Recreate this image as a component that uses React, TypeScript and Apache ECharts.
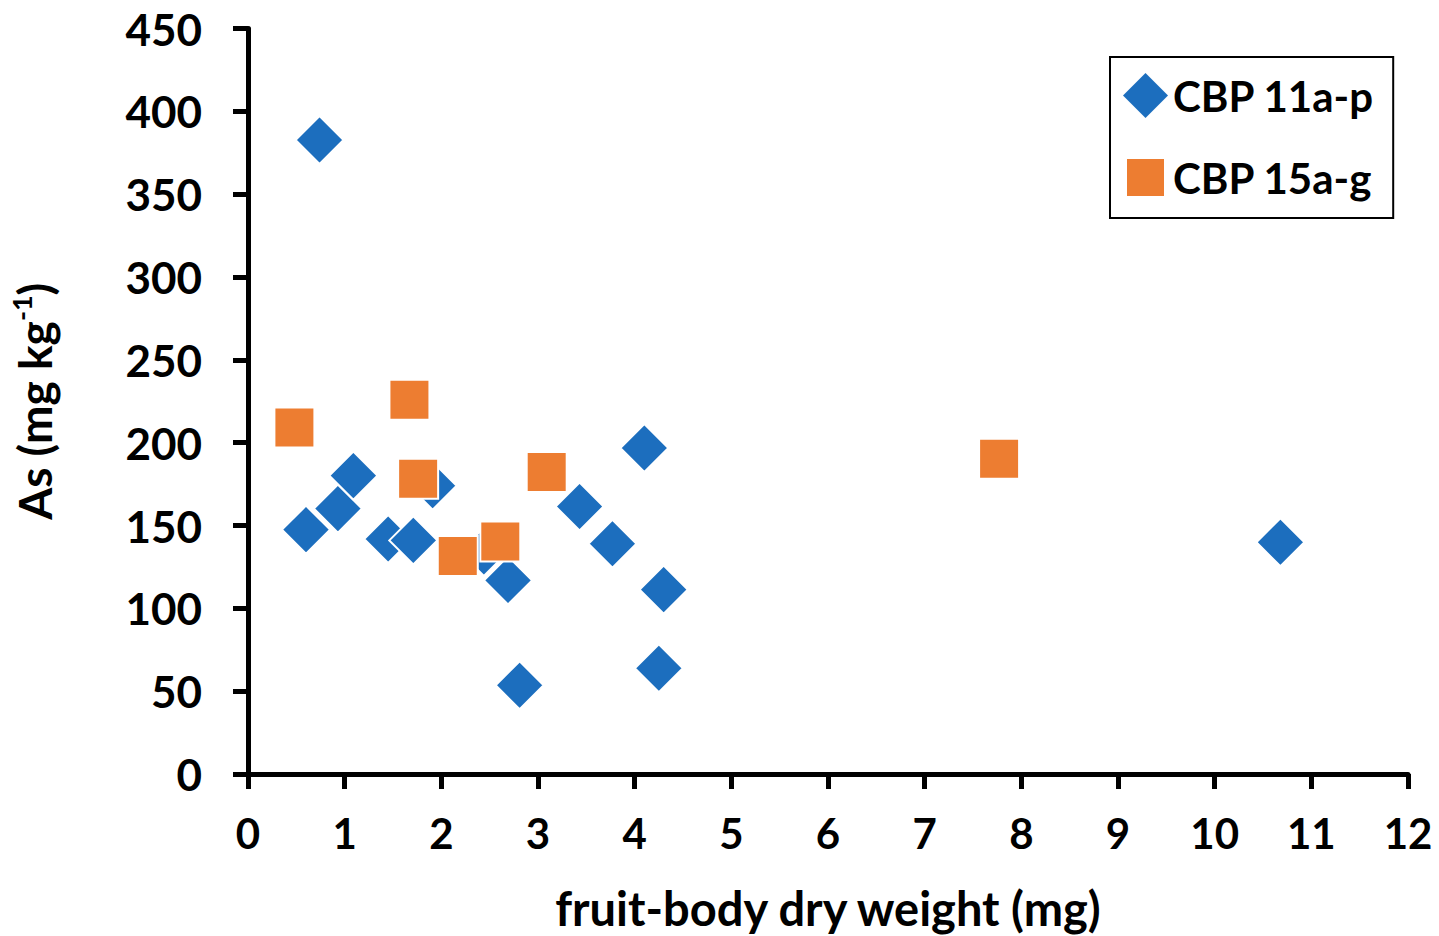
import React, { useEffect, useRef } from "react";
import * as echarts from "echarts";

// CBP 11a-p (blue diamonds)
const seriesAName = "CBP 11a-p";
const seriesAX = [0.60, 0.74, 0.93, 1.09, 1.45, 1.71, 1.91, 2.44, 2.69, 2.81, 3.43, 3.77, 4.10, 4.25, 4.30, 10.68];
const seriesAY = [147.5, 382.7, 160.2, 180.1, 141.9, 141.0, 174.0, 134.1, 116.9, 53.6, 161.5, 139.0, 196.8, 63.8, 111.3, 139.9];

// CBP 15a-g (orange squares)
const seriesBName = "CBP 15a-g";
const seriesBX = [0.48, 1.67, 1.76, 2.17, 2.61, 3.09, 7.77];
const seriesBY = [209.2, 225.9, 178.2, 131.6, 140.4, 182.3, 190.3];

const xTicks = { min: 0, max: 12, interval: 1 };
const yTicks = { min: 0, max: 450, interval: 50 };

const xTitle = "fruit-body dry weight (mg)";

const BLUE = "#1C6EBE";
const ORANGE = "#ED7D31";
const FONT = "Lato";

export default function App() {
  const ref = useRef<HTMLDivElement>(null);

  useEffect(() => {
    if (!ref.current) return;
    const chart = echarts.init(ref.current, null, { renderer: "svg" });
    const axisCommon = {
      axisLine: { show: true, onZero: false, lineStyle: { color: "#000", width: 5 } },
      axisTick: { show: true, inside: false, length: 15, lineStyle: { color: "#000", width: 5 } },
      splitLine: { show: false },
    };
    chart.setOption({
      animation: false,
      backgroundColor: "#fff",
      grid: { left: 246.5, right: 31, top: 28.5, bottom: 161.5, containLabel: false },
      xAxis: {
        type: "value",
        ...xTicks,
        ...axisCommon,
        axisLabel: { margin: 38, color: "#000", fontFamily: FONT, fontWeight: "bold", fontSize: 42 },
        name: xTitle,
        nameLocation: "middle",
        nameGap: 110,
        nameTextStyle: { color: "#000", fontFamily: FONT, fontWeight: "bold", fontSize: 47 },
      },
      yAxis: {
        type: "value",
        ...yTicks,
        ...axisCommon,
        axisLabel: { margin: 46, color: "#000", fontFamily: FONT, fontWeight: "bold", fontSize: 44 },
        name: "{n|As (mg kg}{s|-1}{n|)}",
        nameLocation: "middle",
        nameGap: 188,
        nameTextStyle: {
          color: "#000",
          rich: {
            n: { fontFamily: FONT, fontWeight: "bold", fontSize: 46, color: "#000", lineHeight: 52 },
            s: { fontFamily: FONT, fontWeight: "bold", fontSize: 27, color: "#000", verticalAlign: "top", lineHeight: 30 },
          },
        },
      },
      legend: {
        orient: "vertical",
        left: 1110,
        top: 57,
        padding: [16, 19, 14, 9],
        itemGap: 33,
        itemWidth: 45,
        itemHeight: 45,
        itemTextGap: 4,
        borderColor: "#000",
        borderWidth: 2,
        backgroundColor: "#fff",
        textStyle: { color: "#000", fontFamily: FONT, fontWeight: "bold", fontSize: 42 },
        data: [
          { name: seriesAName, icon: "diamond", itemStyle: { borderWidth: 0 } },
          { name: seriesBName, icon: "rect", itemStyle: { borderColor: "#fff", borderWidth: 8 } },
        ],
      },
      series: [
        {
          name: seriesAName,
          type: "scatter",
          symbol: "diamond",
          symbolSize: 48,
          itemStyle: { color: BLUE, borderColor: "#fff", borderWidth: 2, opacity: 1 },
          data: seriesAX.map((x, i) => [x, seriesAY[i]]),
        },
        {
          name: seriesBName,
          type: "scatter",
          symbol: "rect",
          symbolSize: 40,
          itemStyle: { color: ORANGE, borderColor: "#fff", borderWidth: 2, opacity: 1 },
          data: seriesBX.map((x, i) => [x, seriesBY[i]]),
        },
      ],
    });
    return () => chart.dispose();
  }, []);

  return <div ref={ref} style={{ width: 1439, height: 936, position: "absolute", left: 0, top: 0 }} />;
}
